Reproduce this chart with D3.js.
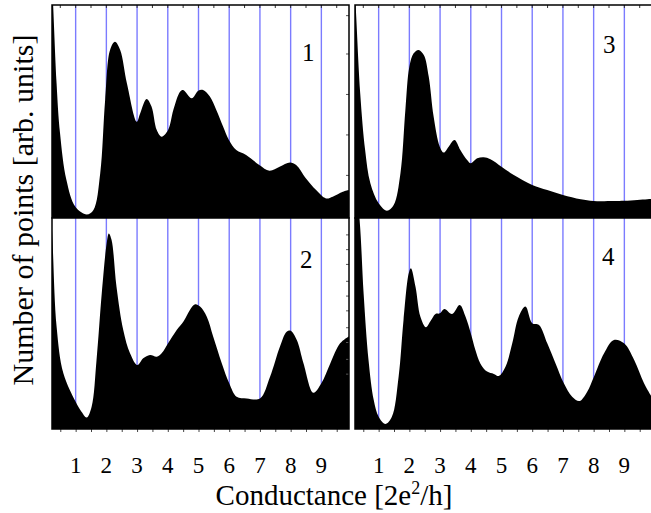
<!DOCTYPE html>
<html><head><meta charset="utf-8">
<script src="https://cdn.jsdelivr.net/npm/d3@7"></script>
<style>html,body{margin:0;padding:0;background:#fff;}svg{display:block;}</style>
</head><body>
<svg id="chart" width="651" height="513"></svg>
<script>
// ---- data ----
const tickLabels = [1, 2, 3, 4, 5, 6, 7, 8, 9];
const panelNames = ["1", "2", "3", "4"];

const g1 = [0.18,0.27,0.38,0.49,0.70,0.99,1.36,1.58,1.80,1.96,2.12,2.28,2.45,2.67,2.99,3.10,3.31,3.47,3.64,3.80,4.01,4.18,4.40,4.50,4.78,4.99,5.15,5.37,5.58,5.80,5.99,6.23,6.55,6.98,7.31,7.64,7.98,8.18,8.50,8.83,9.15,9.37,9.70,9.90];
const v1 = [130,99,63,40,17.8,5.3,1.7,3.8,21,55.4,78.9,82.8,78.9,63.2,45.2,49.1,55.9,52.3,41.3,38.2,41.3,50.7,59.3,60.1,56.2,59.8,60.1,57,50.7,42.9,36.6,31.9,29.6,24.9,22.2,24.1,26.1,24.9,18.6,13.1,9.2,10,12.3,13.1];

const g2 = [0.18,0.25,0.38,0.60,1.00,1.19,1.36,1.52,1.68,1.85,2.01,2.08,2.17,2.33,2.55,2.77,3.01,3.20,3.42,3.64,3.80,4.01,4.29,4.51,4.72,4.89,5.05,5.27,5.48,5.76,6.00,6.24,6.57,7.00,7.33,7.65,7.87,8.00,8.20,8.42,8.74,9.00,9.29,9.61,9.90];
const v2 = [110,88,48.5,26.4,12.9,8.2,5.5,10.6,32.7,64.3,88,92.7,89.6,67.4,46.9,35.9,30.3,33.5,35.1,34.3,35.9,40.6,46.9,50.9,56.4,59.1,58,53.2,43.7,31.1,21.7,15.3,14.5,14.5,24.8,39,46.1,46.6,42.2,31.1,17.2,21.7,31.1,40.6,44];

const g3 = [0.15,0.27,0.40,0.56,0.73,1.00,1.27,1.49,1.71,1.87,2.00,2.14,2.30,2.47,2.63,2.79,2.99,3.12,3.28,3.47,3.66,3.88,4.00,4.21,4.42,4.64,5.00,5.40,6.00,6.49,7.00,7.58,8.00,8.66,9.00,9.42,9.75,9.90];
const v3 = [130,94.5,58.5,31.9,16.3,6.9,3.4,6.1,21,50.7,71,77.3,78.9,76.5,66.4,47.6,33.5,30.7,33.5,36.6,31.9,27.2,25.7,28,28.5,27.6,24.1,20.2,15.5,13.1,10.8,8.8,8.0,8.0,8.1,8.5,8.8,8.9];

const g4 = [0.15,0.38,0.51,0.67,0.84,1.00,1.22,1.43,1.65,1.81,1.98,2.05,2.20,2.36,2.54,2.68,2.85,2.99,3.14,3.39,3.64,3.83,4.00,4.15,4.31,4.53,4.75,4.91,5.13,5.35,5.56,5.78,6.00,6.22,6.49,6.76,7.03,7.30,7.54,7.79,8.01,8.34,8.66,8.99,9.32,9.64,9.90];
const v4 = [130,99,64.3,32.7,13.7,5.8,2.4,5.8,24.8,51.7,73.8,76.2,67.4,53.2,48.2,50.9,54.5,54.8,56.9,54.5,58.8,53.2,45.4,37.4,31.1,27.2,26.1,25.1,29.5,40.6,53.2,58,50.1,49.3,40.6,31.1,21.7,15.3,13.3,17.7,24.8,35.9,42.2,40.6,32.7,21.7,15];

const panels = [
  {name: panelNames[0], g: g1, v: v1, col: 0, row: 0},
  {name: panelNames[1], g: g2, v: v2, col: 0, row: 1},
  {name: panelNames[2], g: g3, v: v3, col: 1, row: 0},
  {name: panelNames[3], g: g4, v: v4, col: 1, row: 1}
];

// ---- layout ----
const svg = d3.select("#chart");
const serif = "'Liberation Serif', 'DejaVu Serif', serif";
const colX = [52, 355];
const panelW = 297;
const rowY = [5, 218];
const rowH = [213, 211];
const xDomain = [0.23, 9.9];
const blue = "#7b7bff";
const lblPos = [[250, 56], [248, 50], [248, 48], [247, 47]];

panels.forEach((p, i) => {
  const x0 = colX[p.col], y0 = rowY[p.row], h = rowH[p.row];
  const x = d3.scaleLinear().domain(xDomain).range([0, panelW]);
  const y = d3.scaleLinear().domain([0, 100]).range([h, 0]);
  const g = svg.append("g").attr("transform", `translate(${x0},${y0})`);

  g.append("clipPath").attr("id", "clip" + i)
    .append("rect").attr("width", panelW).attr("height", h);

  const inner = g.append("g").attr("clip-path", `url(#clip${i})`);
  inner.append("rect").attr("width", panelW).attr("height", h).attr("fill", "#fff");

  // blue guide lines at integer conductance
  inner.selectAll("line.grid").data(tickLabels).join("line")
    .attr("class", "grid")
    .attr("x1", d => x(d)).attr("x2", d => x(d))
    .attr("y1", 0).attr("y2", h)
    .attr("stroke", blue).attr("stroke-width", 1.4);

  const pts = p.g.map((gv, k) => [gv, p.v[k]]);
  const area = d3.area()
    .x(d => x(d[0])).y0(h + 2).y1(d => y(d[1]))
    .curve(d3.curveCatmullRom.alpha(0.5));
  inner.append("path").datum(pts).attr("d", area).attr("fill", "#000");

  // top minor ticks (inward)
  if (p.row === 0) {
    const topTicks = d3.range(0.5, 10, 0.5);
    g.selectAll("line.tt").data(topTicks.filter(t => t >= xDomain[0] && t <= xDomain[1])).join("line")
      .attr("class", "tt")
      .attr("x1", d => x(d)).attr("x2", d => x(d))
      .attr("y1", 0).attr("y2", 3)
      .attr("stroke", "#333").attr("stroke-width", 1);
  }
  // right ticks on left panels (inward)
  if (p.col === 0) {
    const rt = p.row === 0 ? [20, 39, 58, 77, 95] : [26, 33, 41, 48, 56, 63, 70, 78, 85, 92];
    g.selectAll("line.rt").data(rt).join("line")
      .attr("class", "rt")
      .attr("x1", panelW - 3).attr("x2", panelW)
      .attr("y1", d => y(d)).attr("y2", d => y(d))
      .attr("stroke", "#555").attr("stroke-width", 1);
  }
  // bottom axis on lower panels
  if (p.row === 1) {
    const ax = d3.axisBottom(x)
      .tickValues(d3.range(0.5, 10, 0.5).filter(t => t >= xDomain[0] && t <= xDomain[1]))
      .tickSize(3).tickFormat("");
    const axG = g.append("g").attr("transform", `translate(0,${h})`).call(ax);
    axG.select(".domain").remove();
    axG.selectAll(".tick line").attr("stroke", "#444").attr("stroke-width", 1);
    g.selectAll("text.tl").data(tickLabels).join("text")
      .attr("class", "tl")
      .attr("x", d => x(d)).attr("y", h + 44)
      .attr("text-anchor", "middle")
      .attr("font-family", serif)
      .attr("font-size", 23)
      .text(d => d);
  }

  // frame
  g.append("rect").attr("width", panelW).attr("height", h)
    .attr("fill", "none").attr("stroke", "#000").attr("stroke-width", 1.5);

  // panel number
  g.append("text")
    .attr("x", lblPos[i][0]).attr("y", lblPos[i][1])
    .attr("font-family", serif)
    .attr("font-size", 25)
    .text(p.name);
});

// axis titles
const xt = svg.append("text")
  .attr("x", 334).attr("y", 505)
  .attr("text-anchor", "middle")
  .attr("font-family", serif)
  .attr("font-size", 29);
xt.append("tspan").text("Conductance [2e");
xt.append("tspan").attr("dy", -11).attr("font-size", 18).text("2");
xt.append("tspan").attr("dy", 11).text("/h]");

svg.append("text")
  .attr("transform", "translate(33,210) rotate(-90)")
  .attr("text-anchor", "middle")
  .attr("font-family", serif)
  .attr("font-size", 30)
  .text("Number of points [arb. units]");
</script>
</body></html>
